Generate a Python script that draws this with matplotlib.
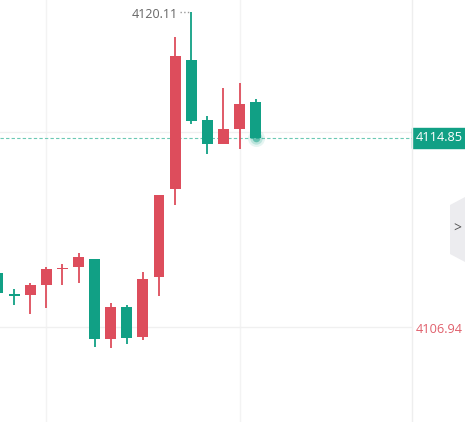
import numpy as np
import matplotlib.pyplot as plt
from matplotlib.patches import Polygon, Rectangle
from matplotlib.lines import Line2D

plt.rcParams['font.family'] = ['Open Sans', 'DejaVu Sans']

# candle data (price)
opens = [4109.23, 4108.32, 4108.29, 4108.71, 4109.38, 4109.48, 4109.80, 4106.47, 4107.79,
         4106.55, 4109.06, 4112.71, 4118.11, 4115.60, 4114.61, 4115.24, 4116.37]
closes = [4108.38, 4108.27, 4108.71, 4109.38, 4109.42, 4109.88, 4106.47, 4107.79, 4106.51,
          4108.96, 4112.47, 4118.27, 4115.57, 4114.61, 4115.23, 4116.27, 4114.85]
highs = [4109.23, 4108.53, 4108.81, 4109.48, 4109.59, 4110.04, 4109.80, 4107.96, 4107.88,
         4109.26, 4112.47, 4119.08, 4120.11, 4115.77, 4116.94, 4117.16, 4116.49]
lows = [4108.38, 4107.88, 4107.50, 4107.76, 4108.70, 4108.81, 4106.14, 4106.09, 4106.26,
        4106.42, 4108.27, 4112.05, 4115.42, 4114.19, 4114.61, 4114.40, 4114.85]

last_price = 4114.85
low_label = 4106.94
grid_prices = [4106.94, 4115.11]
grid_candles = [3, 15]

up_col = '#dd4d5c'
down_col = '#11a085'

W, H = 465, 422
fig = plt.figure(figsize=(W / 100, H / 100), dpi=100)
ax = fig.add_axes([0, 0, 1, 1])
ax.set_xlim(2 / 16.1, (W + 2) / 16.1)
ax.set_ylim(4102.99, 4120.61)
ax.axis('off')

axis_edge = 412 / W  # price axis start (axes fraction)

x = np.arange(len(opens))
o = np.array(opens)
c = np.array(closes)
cols = [up_col if cc >= oo else down_col for oo, cc in zip(o, c)]

# grid
for gx in grid_candles:
    ax.axvline(gx, color='#f3f3f3', lw=1, zorder=0)
for gp in grid_prices:
    ax.axhline(gp, xmax=axis_edge, color='#f0f0f0', lw=1, zorder=0)
fig.add_artist(Line2D([axis_edge] * 2, [0, 1], transform=fig.transFigure,
                      color='#eeeeee', lw=1))

# candles
ax.vlines(x, lows, highs, colors=cols, lw=1.3, zorder=2)
body = np.maximum(np.abs(c - o), 0.06)
ax.bar(x, body, bottom=np.minimum(o, c), width=0.68, color=cols, zorder=3)

# last price line + glow
x0, x1 = ax.get_xlim()
ax.hlines(last_price, x0, x0 + axis_edge * (x1 - x0),
          colors='#6cc9b4', linestyles=(0, (3, 2)), lw=0.8, zorder=1)
for s, a in [(150, 0.10), (80, 0.2), (30, 0.5)]:
    ax.scatter([x[-1]], [last_price], s=s, color=down_col, alpha=a, lw=0, zorder=4)

# max marker
imax = int(np.argmax(highs))
ax.plot([imax - 0.68, imax], [highs[imax]] * 2, ls=':', color='#999999', lw=1)
ax.text(imax - 0.85, highs[imax] - 0.1, f'{highs[imax]:.2f}', ha='right', va='center',
        fontsize=9, color='#666666')

# right axis labels
ytr = ax.get_yaxis_transform()
ax.text(axis_edge + 0.008, grid_prices[1] - 0.08, f'{grid_prices[1]:.2f}', transform=ytr,
        fontsize=9, color='#888888', va='center', zorder=4)
ax.add_patch(Rectangle((axis_edge, last_price - 0.4), 1 - axis_edge, 0.8, transform=ytr,
                       color=down_col, zorder=5, clip_on=False))
ax.text(axis_edge + 0.008, last_price, f'{last_price:.2f}', transform=ytr, fontsize=9.2,
        color='white', va='center', zorder=6)
ax.text(axis_edge + 0.008, low_label - 0.07, f'{low_label:.2f}', transform=ytr, fontsize=9.2,
        color='#e0606c', va='center')

# collapse tab
tab = [(465, 197), (450, 205), (450, 254), (465, 262)]
fig.add_artist(Polygon([(px / W, 1 - py / H) for px, py in tab], closed=True,
                       transform=fig.transFigure, color='#ececef', lw=0))
fig.text(457 / W, 1 - 229 / H, '>', fontsize=10, color='#555555', ha='center', va='center')

fig.savefig('out.png', dpi=100, facecolor='white')
